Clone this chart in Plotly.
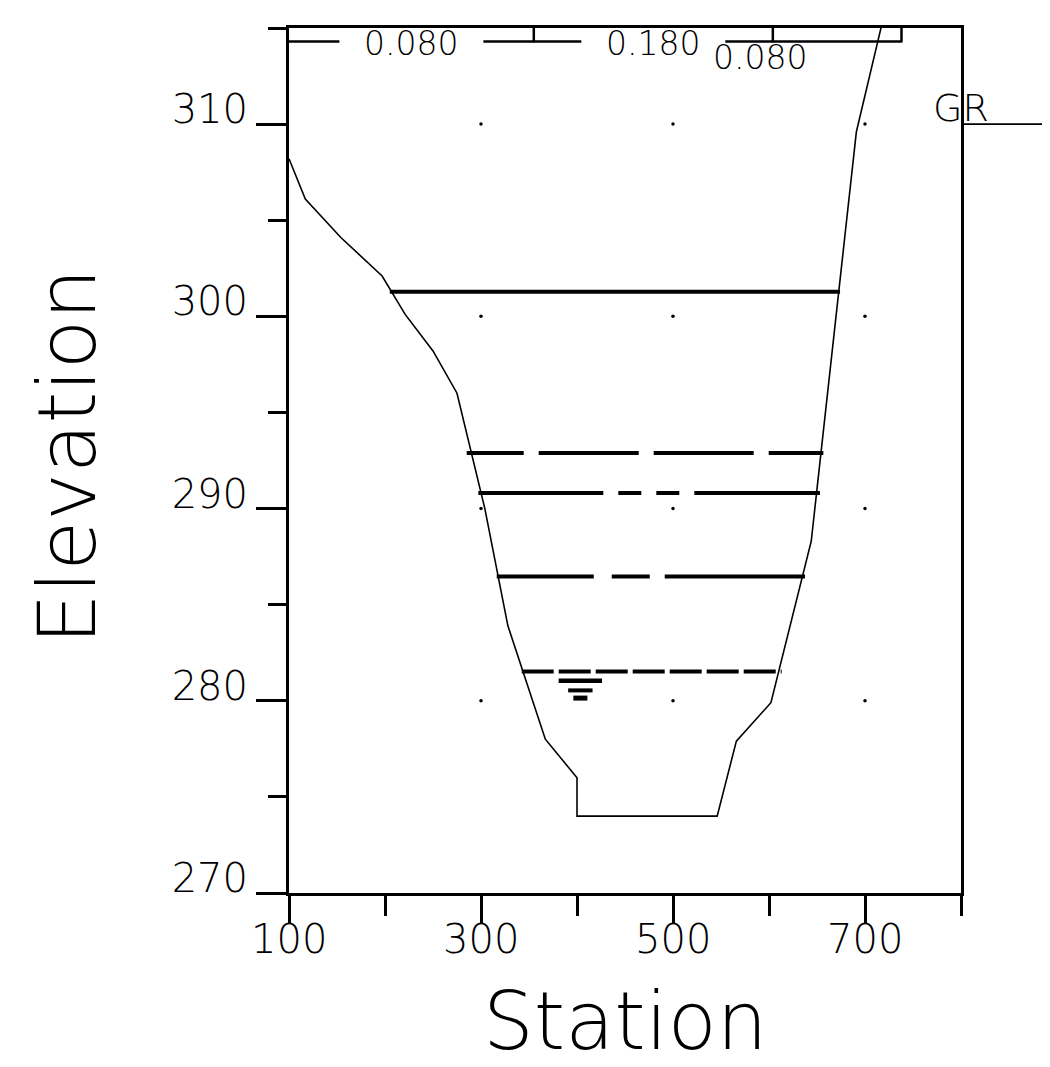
import plotly.graph_objects as go

# ---------------- data ----------------
gr_sta = [100, 117, 154, 197, 221, 250, 275, 304, 328, 367, 400, 400, 546, 566, 602, 644, 691, 738]
gr_elev = [308.2, 306.1, 304.1, 302.1, 300.1, 298.2, 296.0, 290.0, 283.9, 278.0, 276.0, 274.0,
           274.0, 277.9, 279.9, 288.3, 309.6, 319.5]

ws_elev = [301.28, 292.89, 290.81, 286.47, 281.52]
ws_left = [205, 285.1, 297.2, 316.4, 342.4]
ws_right = [674, 656.6, 653.1, 637.5, 613.2]

n_sta = [100, 355, 604, 738]
n_val = ["0.080", "0.180", "0.080"]

x_ticks = [100, 300, 500, 700]
y_ticks = [270, 280, 290, 300, 310]

# ---------------- styles ----------------
FONT = "DejaVu Sans"
WEIGHT = 200
ws_dash = ["solid",
           "57px,15px,100px,15px,100px,15px,100px",
           "125px,15px,23px,15px,23px,15px,200px",
           "97px,18px,38px,15px,200px",
           "32px,5px"]

X_RANGE = [100, 800]
Y_RANGE = [270, 315]

fig = go.Figure()

# ground profile
fig.add_trace(go.Scatter(x=gr_sta, y=gr_elev, mode="lines",
                         line=dict(color="black", width=1.6), showlegend=False,
                         hoverinfo="skip"))

# water surfaces
for e, a, b, d in zip(ws_elev, ws_left, ws_right, ws_dash):
    fig.add_trace(go.Scatter(x=[a, b], y=[e, e], mode="lines",
                             line=dict(color="black", width=4, dash=d),
                             showlegend=False, hoverinfo="skip"))

# water-surface symbol under lowest WS
ws_low = ws_elev[-1]
sym_c = 403.5
for dy, hw, w in [(0.48, 22.6, 4.5), (0.98, 12.7, 4), (1.38, 7.3, 5)]:
    fig.add_shape(type="line", x0=sym_c - hw, x1=sym_c + hw, y0=ws_low - dy, y1=ws_low - dy,
                  xref="x", yref="y", line=dict(color="black", width=w))

# grid dots
gx, gy = [], []
for xv in x_ticks[1:]:
    for yv in y_ticks[1:]:
        gx.append(xv)
        gy.append(yv)
fig.add_trace(go.Scatter(x=gx, y=gy, mode="markers",
                         marker=dict(color="black", size=3.5), showlegend=False,
                         hoverinfo="skip"))

# n-value bar at top
top = Y_RANGE[1]
bar_y = top - 0.7
half_gap = 75
for i, val in enumerate(n_val):
    a, b = n_sta[i], n_sta[i + 1]
    c = (a + b) / 2
    if b - a > 2 * half_gap + 20:
        fig.add_shape(type="line", x0=a, x1=c - half_gap, y0=bar_y, y1=bar_y,
                      line=dict(color="black", width=2.5))
        fig.add_shape(type="line", x0=c + half_gap, x1=b, y0=bar_y, y1=bar_y,
                      line=dict(color="black", width=2.5))
        fig.add_annotation(x=c, y=1, xref="x", yref="paper", text=val, showarrow=False,
                           xanchor="center", yanchor="middle", yshift=-15,
                           font=dict(family=FONT, size=33, color="black", weight=WEIGHT))
    else:
        fig.add_shape(type="line", x0=a, x1=b, y0=bar_y, y1=bar_y,
                      line=dict(color="black", width=2.5))
        fig.add_annotation(x=a, y=1, xref="x", yref="paper", text=val, showarrow=False,
                           xanchor="center", yanchor="middle", yshift=-29, xshift=-13,
                           font=dict(family=FONT, size=33, color="black", weight=WEIGHT))
for s in n_sta[1:]:
    fig.add_shape(type="line", x0=s, x1=s, y0=top, y1=bar_y - 0.05,
                  line=dict(color="black", width=2.5))

# GR label with line
fig.add_shape(type="line", xref="paper", yref="y", x0=1.002, x1=1.14, y0=310, y1=310,
              line=dict(color="black", width=1.6))
fig.add_annotation(x=1.0, y=310, xref="paper", yref="y", text="GR", showarrow=False,
                   xanchor="center", yanchor="bottom", yshift=-8,
                   font=dict(family=FONT, size=38, color="black", weight=WEIGHT))

# x tick labels (placed as annotations to sit close under the ticks)
for xv in x_ticks:
    fig.add_annotation(x=xv, y=0, xref="x", yref="paper", text=str(xv), showarrow=False,
                       xanchor="center", yanchor="middle", yshift=-46,
                       font=dict(family=FONT, size=40, color="black", weight=WEIGHT))

# axis titles
fig.add_annotation(x=-0.3296, y=0.504, xref="paper", yref="paper", text="Elevation",
                   textangle=-90, showarrow=False, xanchor="center", yanchor="middle",
                   font=dict(family=FONT, size=81, color="black", weight=WEIGHT))
fig.add_annotation(x=0.5, y=-0.149, xref="paper", yref="paper", text="Station",
                   showarrow=False, xanchor="center", yanchor="middle",
                   font=dict(family=FONT, size=80, color="black", weight=WEIGHT))

fig.update_xaxes(range=X_RANGE, tickmode="array", tickvals=x_ticks,
                 showticklabels=False,
                 ticks="outside", ticklen=27, tickwidth=2.5, tickcolor="black",
                 showline=True, linewidth=3, linecolor="black", mirror=True,
                 showgrid=False, zeroline=False,
                 minor=dict(tickvals=[200, 400, 600, 800], ticks="outside", ticklen=20,
                            tickwidth=2.5, tickcolor="black", showgrid=False))
fig.update_yaxes(range=Y_RANGE, tickmode="array", tickvals=y_ticks,
                 ticktext=[str(v) for v in y_ticks],
                 ticks="outside", ticklen=30, tickwidth=2.5, tickcolor="black",
                 showline=True, linewidth=3, linecolor="black", mirror=True,
                 showgrid=False, zeroline=False,
                 minor=dict(tickvals=[275, 285, 295, 305, 315], ticks="outside", ticklen=18,
                            tickwidth=2.5, tickcolor="black", showgrid=False),
                 tickfont=dict(family=FONT, size=40, color="black", weight=WEIGHT),
                 ticklabelshift=-15, ticklabelstandoff=0)

# the page body adds an 8px margin; shrink the figure so the plot lands in place
fig.update_layout(width=1042, height=1059,
                  margin=dict(l=281, r=89, t=20, b=174),
                  paper_bgcolor="white", plot_bgcolor="white",
                  showlegend=False)

fig.write_html("out.html")
